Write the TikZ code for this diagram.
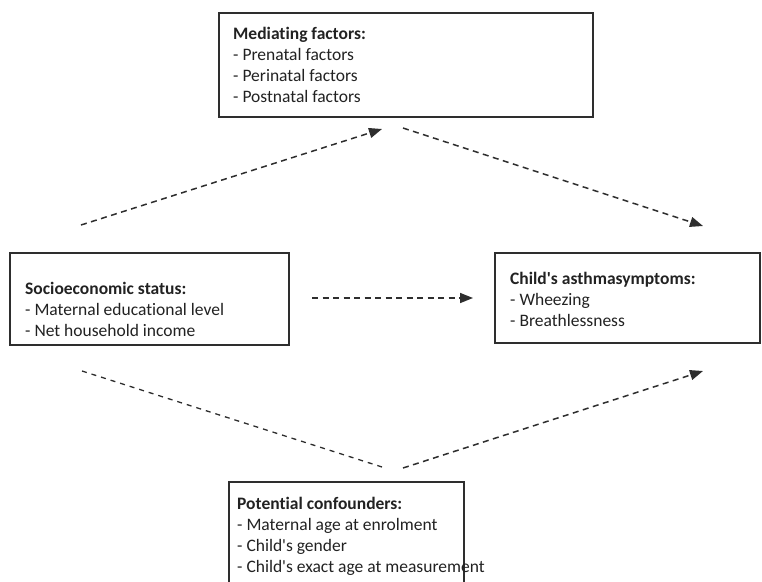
\documentclass[tikz,border=0pt]{standalone}
\usepackage{fontspec}
% plain family: no common ligatures, straight apostrophes
\newfontfamily\boxfont{Carlito}[Ligatures=NoCommon]
\usetikzlibrary{arrows.meta}
\definecolor{ink}{HTML}{222222}
\definecolor{rule}{HTML}{2E2E2E}
\begin{document}
\begin{tikzpicture}[x=1pt,y=-1pt,
  frame/.style={draw=rule, line width=1.5pt},
  label/.style={anchor=north west, inner sep=0pt, align=left, text=ink,
    font=\boxfont\fontsize{17.5}{21}\selectfont},
  flow/.style={draw=rule, line width=1.5pt, dash pattern=on 6pt off 4.5pt,
    -{Triangle[length=13pt,width=10pt]}},
  plain/.style={draw=rule, line width=1.3pt, dash pattern=on 5pt off 5pt}]
\clip (0,0) rectangle (762,581);
\fill[white] (0,0) rectangle (762,581);

% boxes
\draw[frame] (219,13) rectangle (593,117);
\draw[frame] (10,253) rectangle (289,345);
\draw[frame] (495,253) rectangle (760,343);
\draw[frame] (229,600) -- (229,482) -- (464,482) -- (464,600);

% texts
\node[label] (med) at (233,27) {\textbf{Mediating factors:}\\- Prenatal factors\\- Perinatal factors\\- Postnatal factors};
\node[label] (ses) at (25,282) {\textbf{Socioeconomic status:}\\- Maternal educational level\\- Net household income};
\node[label] (asth) at (510,272) {\textbf{Child's asthmasymptoms:}\\- Wheezing\\- Breathlessness};
\node[label] (conf) at (237,497) {\textbf{Potential confounders:}\\- Maternal age at enrolment\\- Child's gender\\- Child's exact age at measurement};

% connector end points
\coordinate (s1) at (81,225);
\coordinate (t1) at (382,129);
\coordinate (s2) at (403,128);
\coordinate (t2) at (703,226);
\coordinate (s3) at (312,298);
\coordinate (t3) at (473,298);
\coordinate (s4) at (82,371);
\coordinate (t4) at (382,467);
\coordinate (s5) at (403,468);
\coordinate (t5) at (703,371);

% connectors
\draw[flow] (s1) -- (t1);
\draw[flow] (s2) -- (t2);
\draw[flow] (s3) -- (t3);
\draw[plain] (s4) -- (t4);
\draw[flow] (s5) -- (t5);
\end{tikzpicture}
\end{document}
